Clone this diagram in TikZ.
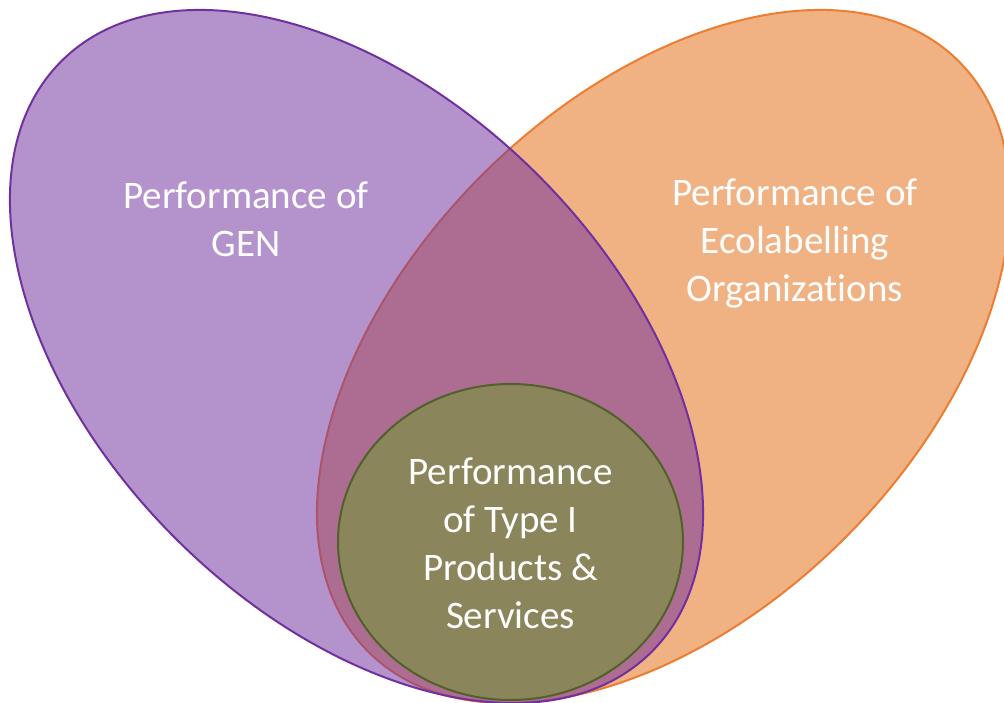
\documentclass[tikz,border=0pt]{standalone}
\usepackage{fontspec}
\setmainfont{Carlito}[Ligatures=NoCommon]
\definecolor{purpleE}{HTML}{7030A0}
\definecolor{orangeF}{HTML}{F0B183}
\definecolor{orangeL}{HTML}{ED7D31}
\definecolor{oliveF}{HTML}{8B855B}
\definecolor{oliveL}{HTML}{4F6228}
\begin{document}
\begin{tikzpicture}[x=1pt,y=1pt,
  lbl/.style={text=white, font=\fontsize{39}{48}\selectfont, align=center, inner sep=0pt}]
\useasboundingbox (0,0) rectangle (1004,-702);
% orange ellipse
\path[fill=orangeF, draw=orangeL, line width=2pt, rotate around={45:(663.5,-356.5)}]
  (663.5,-356.5) ellipse [x radius=417.5, y radius=256.6];
% purple ellipse (semi-transparent)
\path[fill=purpleE, fill opacity=0.52, draw=purpleE, draw opacity=1, line width=2pt, rotate around={-45:(356.5,-356.5)}]
  (356.5,-356.5) ellipse [x radius=417.5, y radius=256.6];
% inner circle
\path[fill=oliveF, draw=oliveL, line width=2pt]
  (510.5,-542) ellipse [x radius=172.5, y radius=158];
\node[lbl] (gen) at (246,-219) {Performance of\\GEN};
\node[lbl] (eco) at (795,-243) {Performance of\\Ecolabelling\\Organizations};
\node[lbl] (type) at (510.5,-543) {Performance\\of Type I\\Products \&\\Services};
\end{tikzpicture}
\end{document}
